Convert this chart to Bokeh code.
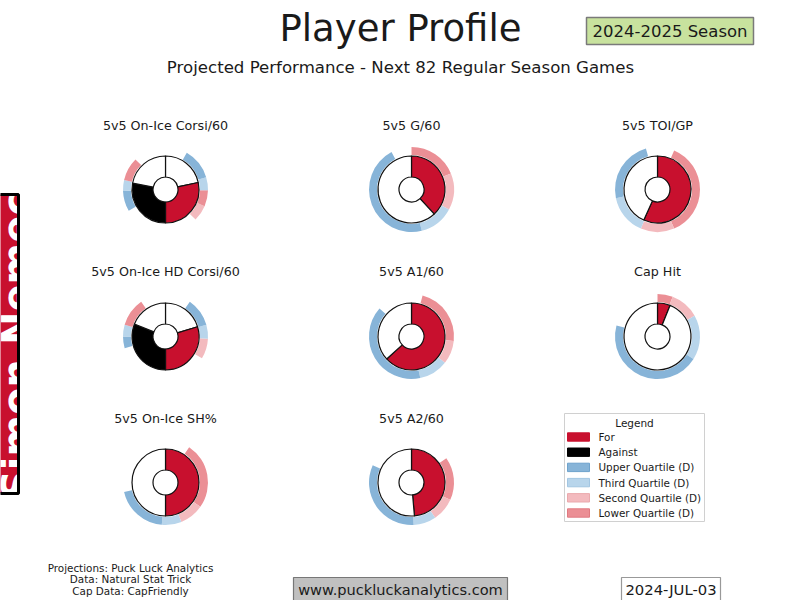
import math
from bokeh.plotting import figure
from bokeh.models import Range1d
from bokeh.core.properties import value
from bokeh.embed import file_html
from bokeh.resources import INLINE

W, H = 800, 600

# ---------------- data ----------------
titles = ["5v5 On-Ice Corsi/60", "5v5 G/60", "5v5 TOI/GP",
          "5v5 On-Ice HD Corsi/60", "5v5 A1/60", "Cap Hit",
          "5v5 On-Ice SH%", "5v5 A2/60"]
two_sided = [True, False, False, True, False, False, False, False]
# projected share of scale (two-sided: share of the half circle)
for_share = [0.567, 0.381, 0.567, 0.594, 0.633, 0.061, 0.500, 0.486]
against_share = [0.561, None, None, 0.622, None, None, None, None]
# league distribution boundaries (min, Q1, median, Q3, max) on the same scale
ring_for = [
    [0.250, 0.372, 0.494, 0.594, 0.833],
    [0.000, 0.189, 0.328, 0.461, 0.922],
    [0.064, 0.436, 0.564, 0.717, 0.956],
    [0.328, 0.483, 0.483, 0.589, 0.806],
    [0.042, 0.267, 0.356, 0.467, 0.864],
    [0.000, 0.058, 0.169, 0.339, 0.792],
    [0.094, 0.347, 0.439, 0.514, 0.714],
    [0.153, 0.317, 0.406, 0.492, 0.817],
]
ring_against = [
    [0.333, 0.489, 0.572, 0.572, 0.750],
    None, None,
    [0.411, 0.500, 0.589, 0.589, 0.806],
    None, None, None, None,
]
legend_labels = ["For", "Against", "Upper Quartile (D)", "Third Quartile (D)",
                 "Second Quartile (D)", "Lower Quartile (D)"]
player_name = "Simon Nemec"
season = "2024-2025 Season"
title = "Player Profile"
subtitle = "Projected Performance - Next 82 Regular Season Games"
footnotes = ["Projections: Puck Luck Analytics", "Data: Natural Stat Trick",
             "Cap Data: CapFriendly"]
website = "www.puckluckanalytics.com"
date_str = "2024-JUL-03"

# ---------------- style ----------------
RED = "#C8102E"
BLACK = "#000000"
C_UPPER = "#87b4d8"
C_THIRD = "#b8d5eb"
C_SECOND = "#f3babe"
C_LOWER = "#eb8f95"
FONT = value("DejaVu Sans")
TXT = "#1a1a1a"

col_x = [165, 411, 657]
row_y = [189, 336, 482]
title_y = [125, 271, 418]
R_HOLE, R_OUT, R_RING0, R_RING1 = 12.5, 33.5, 34.5, 42.5

def Y(py):
    return H - py

p = figure(width=W, height=H, x_range=Range1d(0, W), y_range=Range1d(0, H),
           output_backend="svg", toolbar_location=None,
           x_axis_location=None, y_axis_location=None, min_border=0)
p.grid.visible = False
p.outline_line_color = None
p.background_fill_color = "white"
p.border_fill_color = "white"

ring = dict(x=[], y=[], s=[], e=[], c=[])
inner = dict(x=[], y=[], s=[], e=[], c=[])

def add(d, cx, cy, a, b, color):
    # a, b: clockwise degrees from 12 o'clock
    if b - a <= 0:
        return
    d["x"].append(cx); d["y"].append(Y(cy))
    d["s"].append(math.radians(90 - b)); d["e"].append(math.radians(90 - a))
    d["c"].append(color)

for i, t in enumerate(titles):
    cx, cy = col_x[i % 3], row_y[i // 3]
    if two_sided[i]:
        f = ring_for[i]
        cols = [C_SECOND, C_LOWER, C_THIRD, C_UPPER]
        for k in range(4):
            add(ring, cx, cy, 180 - f[k + 1] * 180, 180 - f[k] * 180, cols[k])
        g = ring_against[i]
        cols = [C_UPPER, C_THIRD, C_SECOND, C_LOWER]
        for k in range(4):
            add(ring, cx, cy, 180 + g[k] * 180, 180 + g[k + 1] * 180, cols[k])
        F = for_share[i] * 180
        A = against_share[i] * 180
        add(inner, cx, cy, 0, 180 - F, "white")
        add(inner, cx, cy, 180 - F, 180, RED)
        add(inner, cx, cy, 180, 180 + A, BLACK)
        add(inner, cx, cy, 180 + A, 360, "white")
    else:
        f = ring_for[i]
        cols = [C_LOWER, C_SECOND, C_THIRD, C_UPPER]
        for k in range(4):
            add(ring, cx, cy, f[k] * 360, f[k + 1] * 360, cols[k])
        v = for_share[i] * 360
        add(inner, cx, cy, 0, v, RED)
        add(inner, cx, cy, v, 360, "white")

p.annular_wedge(x=ring["x"], y=ring["y"], inner_radius=R_RING0, outer_radius=R_RING1,
                start_angle=ring["s"], end_angle=ring["e"], fill_color=ring["c"],
                line_color=None)
p.annular_wedge(x=inner["x"], y=inner["y"], inner_radius=R_HOLE, outer_radius=R_OUT,
                start_angle=inner["s"], end_angle=inner["e"], fill_color=inner["c"],
                line_color="#111111", line_width=1.2)

# chart titles
p.text(x=[col_x[i % 3] for i in range(len(titles))],
       y=[Y(title_y[i // 3]) for i in range(len(titles))], text=titles,
       text_font=FONT, text_font_size=value("12.7px"), text_align="center",
       text_baseline="middle", text_color=TXT)

# main titles
p.text(x=[400], y=[Y(28)], text=[title], text_font=FONT, text_font_size=value("37px"),
       text_align="center", text_baseline="middle", text_color=TXT)
p.text(x=[400], y=[Y(67)], text=[subtitle], text_font=FONT,
       text_font_size=value("16.6px"), text_align="center", text_baseline="middle",
       text_color=TXT)

# season box
p.quad(left=[586], right=[753], top=[Y(17)], bottom=[Y(44)], fill_color="#c8e29e",
       line_color="#7a7a7a", line_width=1.5)
p.text(x=[669.5], y=[Y(30.5)], text=[season], text_font=FONT,
       text_font_size=value("16.5px"), text_align="center", text_baseline="middle",
       text_color=TXT)

# player name box (text clipped at the page edge, as in the original)
p.quad(left=[-10], right=[18], top=[Y(194)], bottom=[Y(493)], fill_color=RED,
       line_color=None)
p.text(x=[16], y=[Y(345)], text=[player_name], angle=math.pi / 2, text_font=FONT,
       text_font_style="bold", text_font_size=value("40px"), text_align="center",
       text_baseline="alphabetic", text_color="white")
p.quad(left=[-10], right=[18], top=[Y(194)], bottom=[Y(493)], fill_color=None,
       line_color="black", line_width=3)

# legend
p.quad(left=[564], right=[704], top=[Y(413)], bottom=[Y(521)], fill_color="white",
       line_color="#d0d0d0", line_width=1)
p.text(x=[634], y=[Y(422.5)], text=["Legend"], text_font=FONT,
       text_font_size=value("10.5px"), text_align="center", text_baseline="middle",
       text_color=TXT)
leg_y = [436.5, 451.7, 466.9, 482.1, 497.3, 512.5]
leg_c = [RED, BLACK, C_UPPER, C_THIRD, C_SECOND, C_LOWER]
leg_lc = [RED, BLACK, "#6fa3cc", "#a3c6e2", "#eaa9ad", "#e07a81"]
p.quad(left=[567] * 6, right=[589] * 6, top=[Y(y - 4.2) for y in leg_y],
       bottom=[Y(y + 4.2) for y in leg_y], fill_color=leg_c, line_color=leg_lc,
       line_width=1)
p.text(x=[598] * 6, y=[Y(y) for y in leg_y], text=legend_labels, text_font=FONT,
       text_font_size=value("10.4px"), text_align="left", text_baseline="middle",
       text_color=TXT)

# footnotes
p.text(x=[130] * 3, y=[Y(567), Y(578.5), Y(590)], text=footnotes, text_font=FONT,
       text_font_size=value("10.4px"), text_align="center", text_baseline="middle",
       text_color=TXT)

# website + date
p.quad(left=[293], right=[507], top=[Y(577)], bottom=[Y(601)], fill_color="#c0c0c0",
       line_color="#777777", line_width=1.2)
p.text(x=[400], y=[Y(589)], text=[website], text_font=FONT,
       text_font_size=value("14.6px"), text_align="center", text_baseline="middle",
       text_color=TXT)
p.quad(left=[621], right=[720], top=[Y(577)], bottom=[Y(601)], fill_color="white",
       line_color="#999999", line_width=1.2)
p.text(x=[670.5], y=[Y(589)], text=[date_str], text_font=FONT,
       text_font_size=value("14.8px"), text_align="center", text_baseline="middle",
       text_color=TXT)

open("out.html", "w").write(file_html(p, INLINE))
